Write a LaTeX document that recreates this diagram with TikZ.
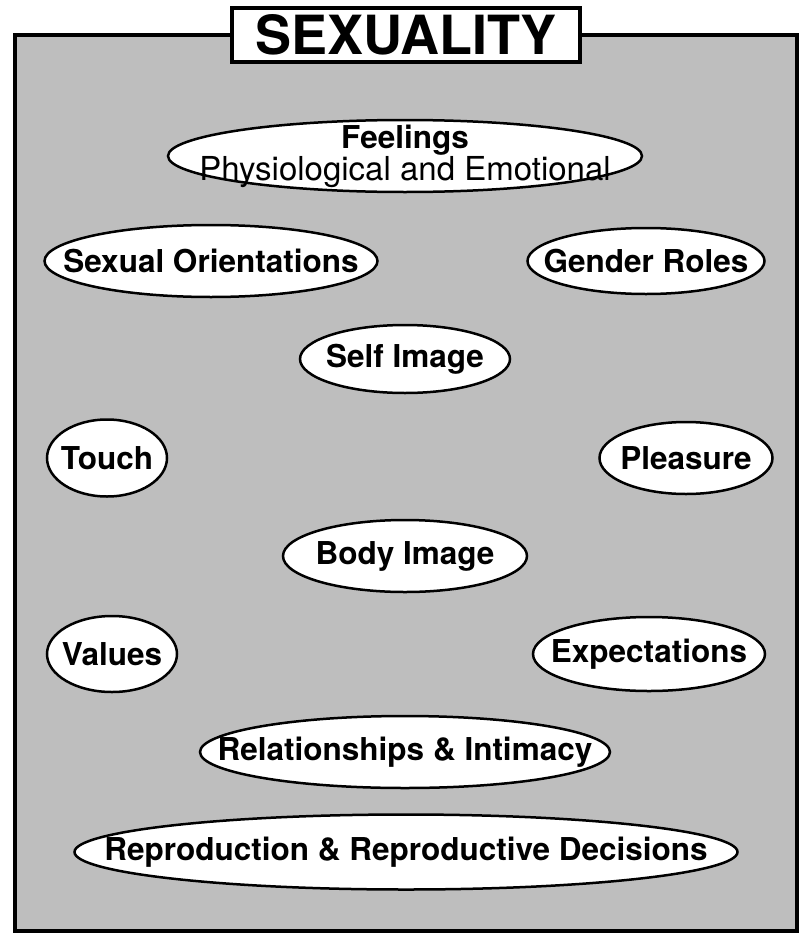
\documentclass[tikz,border=0pt]{standalone}
\usepackage{fontspec}
\setmainfont{TeX Gyre Heros}
\usetikzlibrary{shapes.geometric}
\definecolor{boxgray}{RGB}{190,190,190}
\begin{document}
\begin{tikzpicture}[x=1pt,y=-1pt,
  bubble/.style={ellipse,draw,line width=2.5pt,fill=white,inner sep=0pt},
  every label/.style={inner sep=0pt,align=center,
    font=\bfseries\fontsize{31.5}{33}\selectfont}]
\useasboundingbox (0,0) rectangle (800,934);
\draw[line width=4pt,fill=boxgray] (15,35) rectangle (797,931);
\node[draw,line width=4pt,fill=white,minimum width=348,minimum height=54,inner sep=0pt,
  font=\bfseries\fontsize{54}{56}\selectfont] (title) at (406,35) {SEXUALITY};

\node[bubble,minimum width=474,minimum height=72,
  label={center:Feelings\\[-1pt]{\mdseries\fontsize{33}{34}\selectfont Physiological and Emotional}}]
  (feelings) at (405,156) {};
\node[bubble,minimum width=333,minimum height=72,label={center:Sexual Orientations}] (orient) at (211,261) {};
\node[bubble,minimum width=237,minimum height=66,label={center:Gender Roles}] (gender) at (646,261) {};
\node[bubble,minimum width=210,minimum height=68,label={center:Self Image}] (self) at (405,359) {};
\node[bubble,minimum width=120,minimum height=77,label={center:Touch}] (touch) at (107,458) {};
\node[bubble,minimum width=173,minimum height=72,label={center:Pleasure}] (pleasure) at (686,458) {};
\node[bubble,minimum width=244,minimum height=72,label={center:Body Image}] (body) at (405,556) {};
\node[bubble,minimum width=130,minimum height=76,label={center:Values}] (values) at (112,654) {};
\node[bubble,minimum width=232,minimum height=74,label={center:Expectations}] (expect) at (649,654) {};
\node[bubble,minimum width=410,minimum height=72,label={center:Relationships \& Intimacy}] (relation) at (405,752) {};
\node[bubble,minimum width=663,minimum height=75,label={center:Reproduction \& Reproductive Decisions}] (repro) at (406,852) {};
\end{tikzpicture}
\end{document}
